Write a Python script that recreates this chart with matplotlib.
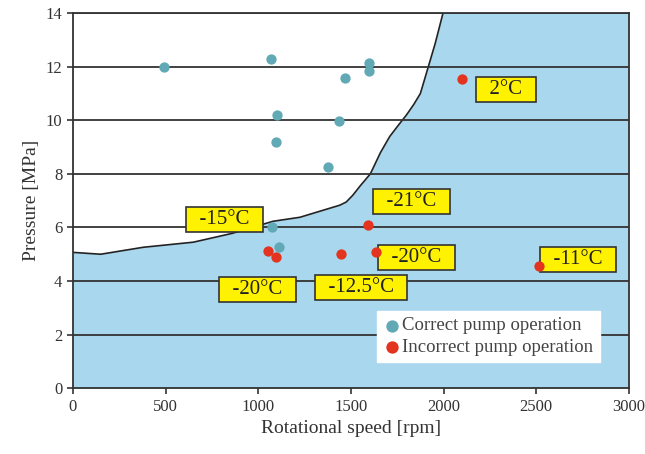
import matplotlib.pyplot as plt

# data
correct_rpm = [490, 1070, 1600, 1600, 1470, 1100, 1435, 1095, 1375, 1075, 1110]
correct_mpa = [12.0, 12.3, 12.15, 11.83, 11.57, 10.19, 9.96, 9.18, 8.25, 6.0, 5.26]

incorrect_rpm = [2100, 1590, 1055, 1095, 1445, 1635, 2515]
incorrect_mpa = [11.53, 6.08, 5.11, 4.89, 5.0, 5.07, 4.55]

# boundary of the shaded (blue) region
boundary_rpm = [0, 150, 380, 650, 860, 1080, 1225, 1440, 1475, 1510, 1550, 1605, 1660, 1710, 1760,
                1800, 1840, 1875, 1920, 1955, 1997, 3000]
boundary_mpa = [5.07, 5.0, 5.26, 5.45, 5.78, 6.23, 6.38, 6.83, 6.95, 7.2, 7.55, 8.0, 8.8, 9.4, 9.85,
                10.2, 10.6, 11.0, 12.05, 12.87, 14.0, 14.0]

# temperature labels
label_text = ['2°C', '-21°C', '-15°C', '-20°C', '-12.5°C', '-20°C', '-11°C']
label_rpm = [2337, 1829, 816, 997, 1554, 1855, 2724]
label_mpa = [11.16, 6.98, 6.3, 3.69, 3.77, 4.89, 4.81]

plt.rcParams['font.family'] = ['Liberation Serif', 'DejaVu Serif']

fig = plt.figure(figsize=(6.45, 4.54), dpi=100)
ax = fig.add_axes([0.113, 0.145, 0.862, 0.826])

ax.fill_between(boundary_rpm, 0, boundary_mpa, color='#a8d7ee', zorder=0, lw=0)
ax.plot(boundary_rpm[:-1], boundary_mpa[:-1], color='#222222', lw=1.2, zorder=1)

for yv in range(2, 15, 2):
    ax.axhline(yv, color='#333333', lw=1.3, zorder=1)

ax.scatter(correct_rpm, correct_mpa, s=55, color='#62a9b6', zorder=5, label='Correct pump operation', lw=0)
ax.scatter(incorrect_rpm, incorrect_mpa, s=55, color='#e2341f', zorder=5, label='Incorrect pump operation', lw=0)

for t, x, y in zip(label_text, label_rpm, label_mpa):
    ax.text(x, y, '  ' + t + '  ', ha='center', va='center', fontsize=15, color='#222222', zorder=4,
            bbox=dict(boxstyle='square,pad=0.15', fc='#fff200', ec='#333333', lw=1.2))

ax.set_xlim(0, 3000)
ax.set_ylim(0, 14)
ax.set_xticks(range(0, 3001, 500))
ax.set_yticks(range(0, 15, 2))
ax.tick_params(labelsize=12, colors='#333333', direction='out', length=4, width=1.2)
for s in ax.spines.values():
    s.set_color('#333333')
    s.set_linewidth(1.3)

ax.set_xlabel('Rotational speed [rpm]', fontsize=14, color='#333333')
ax.set_ylabel('Pressure [MPa]', fontsize=14, color='#333333')

leg = ax.legend(loc='lower right', bbox_to_anchor=(0.948, 0.069), fontsize=13.5, frameon=True,
                fancybox=False, framealpha=1, edgecolor='white', handletextpad=0.1,
                borderpad=0.35, labelspacing=0.22, handlelength=0.9, borderaxespad=0,
                scatterpoints=1, markerscale=1.2)
leg.set_zorder(6)
for text in leg.get_texts():
    text.set_color('#444444')

fig.savefig('out.png')
